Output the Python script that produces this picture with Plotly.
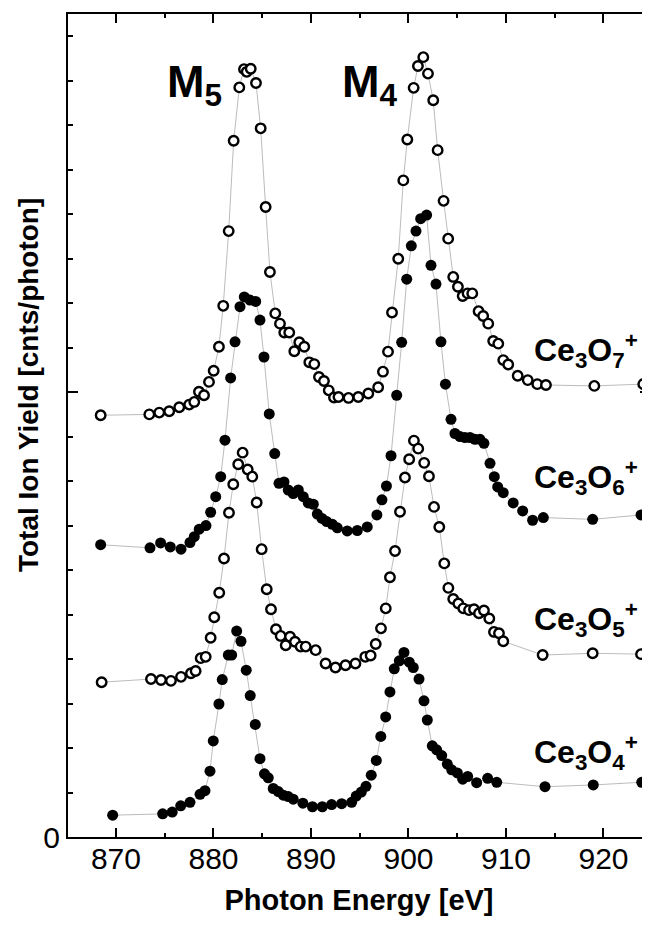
import plotly.graph_objects as go

# ---------------- data ----------------
energy_o7 = [868.43, 873.42, 874.44, 875.46, 876.49, 877.51, 878.03, 878.51, 879.03, 879.54,
             880.02, 880.56, 881.0, 881.56, 882.07, 882.65, 883.13, 883.41, 883.82, 884.36,
             884.84, 885.35, 885.79, 886.34, 886.82, 887.26, 887.77, 888.29, 888.80, 889.31,
             889.83, 890.34, 890.82, 891.33, 891.82, 892.36, 892.82, 893.85, 894.85, 895.88,
             896.89, 897.38, 897.90, 898.31, 898.95, 899.47, 899.88, 900.53, 900.97, 901.52,
             902.0, 902.54, 902.99, 903.60, 904.07, 904.59, 905.07, 905.56, 906.06, 906.54,
             907.19, 907.66, 908.18, 908.69, 909.21, 909.72, 910.23, 911.20, 912.23, 913.21,
             914.10, 919.06, 924.08]
yield_o7 = [9.48, 9.50, 9.54, 9.57, 9.66, 9.72, 9.78, 10.01, 9.93, 10.23,
            10.48, 11.02, 11.94, 13.62, 15.65, 16.85, 17.26, 17.20, 17.27, 16.95,
            15.93, 14.16, 12.70, 11.77, 11.54, 11.34, 11.34, 10.92, 11.12, 11.02,
            10.67, 10.63, 10.34, 10.25, 10.04, 9.88, 9.89, 9.87, 9.89, 9.97,
            10.11, 10.46, 10.91, 11.79, 13.00, 14.76, 15.68, 16.84, 17.33, 17.53,
            17.16, 16.56, 15.44, 14.30, 13.45, 12.59, 12.37, 12.16, 12.22, 12.22,
            11.82, 11.71, 11.54, 11.15, 11.09, 10.72, 10.62, 10.37, 10.27, 10.18,
            10.16, 10.14, 10.18]

energy_o6 = [868.43, 873.49, 874.58, 875.57, 876.67, 877.59, 878.03, 878.54, 879.23, 879.71,
             880.23, 880.74, 881.18, 881.76, 882.21, 882.72, 883.16, 883.74, 884.33, 884.77,
             885.18, 885.72, 886.28, 886.72, 887.23, 887.67, 888.18, 888.70, 889.21, 889.72,
             890.24, 890.65, 891.13, 891.61, 892.18, 892.70, 893.72, 894.75, 895.77, 896.76,
             897.28, 897.74, 898.21, 898.79, 899.30, 899.82, 900.29, 900.77, 901.25, 901.86,
             902.31, 902.82, 903.33, 903.79, 904.36, 904.77, 905.28, 905.79, 906.31, 906.82,
             907.33, 907.74, 908.36, 908.80, 909.15, 909.72, 910.74, 911.71, 912.73, 913.83,
             918.89, 923.85]
yield_o6 = [6.57, 6.50, 6.61, 6.52, 6.47, 6.62, 6.75, 6.92, 7.00, 7.30,
            7.65, 8.10, 8.92, 10.32, 11.13, 11.92, 12.14, 12.07, 12.04, 11.62,
            10.79, 9.51, 8.62, 7.95, 7.98, 7.80, 7.72, 7.80, 7.65, 7.51,
            7.48, 7.26, 7.16, 7.09, 7.03, 6.95, 6.88, 6.89, 6.97, 7.24,
            7.58, 7.89, 8.57, 9.93, 11.12, 12.54, 13.29, 13.62, 13.90, 13.98,
            12.85, 12.43, 11.13, 10.18, 9.39, 9.07, 9.00, 8.98, 8.98, 8.94,
            8.94, 8.85, 8.40, 8.10, 7.87, 7.74, 7.51, 7.33, 7.12, 7.18,
            7.14, 7.24]

energy_o5 = [868.53, 873.59, 874.62, 875.64, 876.67, 877.69, 878.17, 878.69, 879.20, 879.71,
             880.08, 880.59, 881.08, 881.59, 882.03, 882.54, 882.99, 883.51, 883.98, 884.43,
             884.94, 885.46, 885.90, 886.41, 886.89, 887.41, 887.85, 888.36, 888.94, 889.46,
             890.48, 891.50, 892.51, 893.54, 894.56, 895.57, 896.12, 896.64, 897.18, 897.67,
             898.10, 898.62, 899.13, 899.64, 900.07, 900.56, 901.0, 901.61, 902.10, 902.62,
             903.16, 903.67, 904.09, 904.59, 905.11, 905.62, 906.21, 906.72, 907.23, 907.74,
             908.29, 908.77, 909.28, 909.72, 913.76, 918.89, 923.85]
yield_o5 = [3.48, 3.55, 3.53, 3.51, 3.60, 3.68, 3.73, 4.02, 4.05, 4.48,
            4.94, 5.49, 6.26, 7.29, 7.93, 8.38, 8.64, 8.26, 8.10, 7.52,
            6.47, 5.57, 5.12, 4.67, 4.52, 4.31, 4.50, 4.39, 4.28, 4.28,
            4.20, 3.90, 3.81, 3.86, 3.90, 4.05, 4.08, 4.34, 4.69, 5.14,
            5.84, 6.43, 7.31, 8.08, 8.49, 8.91, 8.73, 8.41, 8.11, 7.42,
            6.97, 6.15, 5.60, 5.35, 5.25, 5.14, 5.10, 5.12, 5.03, 5.09,
            4.91, 4.61, 4.58, 4.40, 4.09, 4.13, 4.11]

energy_o4 = [869.66, 874.79, 875.77, 876.64, 877.59, 878.62, 879.13, 879.64, 879.98, 880.56,
             880.90, 881.52, 881.87, 882.38, 882.82, 883.36, 883.77, 884.29, 884.77, 885.23,
             885.62, 886.13, 886.65, 887.16, 887.67, 888.18, 889.17, 890.15, 891.16, 892.12,
             893.15, 894.17, 894.64, 895.16, 895.64, 896.18, 896.70, 897.16, 897.66, 898.10,
             898.54, 899.06, 899.54, 900.08, 900.49, 901.08, 901.59, 901.93, 902.44, 902.89,
             903.41, 903.98, 904.43, 905.01, 905.56, 906.07, 906.99, 908.12, 909.05, 914.0,
             918.95, 923.92]
yield_o4 = [0.49, 0.52, 0.56, 0.70, 0.78, 0.96, 1.04, 1.48, 2.16, 2.99,
            3.54, 4.09, 4.09, 4.63, 4.40, 3.75, 3.18, 2.53, 1.76, 1.42,
            1.33, 1.09, 1.02, 0.94, 0.91, 0.85, 0.76, 0.68, 0.68, 0.73,
            0.75, 0.78, 0.92, 1.01, 1.14, 1.39, 1.72, 2.26, 2.70, 3.26,
            3.78, 3.96, 4.15, 3.93, 3.81, 3.55, 3.06, 2.63, 2.05, 1.96,
            1.83, 1.64, 1.51, 1.44, 1.30, 1.36, 1.22, 1.32, 1.23, 1.13,
            1.17, 1.23]

series_names = ["Ce<sub>3</sub>O<sub>4</sub><sup>+</sup>", "Ce<sub>3</sub>O<sub>5</sub><sup>+</sup>",
                "Ce<sub>3</sub>O<sub>6</sub><sup>+</sup>", "Ce<sub>3</sub>O<sub>7</sub><sup>+</sup>"]
series_x = [energy_o4, energy_o5, energy_o6, energy_o7]
series_y = [yield_o4, yield_o5, yield_o6, yield_o7]
series_open = [False, True, False, True]
label_y = [1.91, 4.88, 8.08, 10.94]
label_x = 912.64

edge_labels = ["M<sub>5</sub>", "M<sub>4</sub>"]
edge_x = [878.05, 896.1]
edge_y = 16.92

FONT = "Liberation Sans, Arial, Helvetica, sans-serif"

fig = go.Figure()
for xs, ys in zip(series_x, series_y):
    fig.add_trace(go.Scatter(x=xs, y=ys, mode="lines",
                             line=dict(color="#bcbcbc", width=1),
                             hoverinfo="skip", showlegend=False))
for xs, ys, op in zip(series_x, series_y, series_open):
    if op:
        mk = dict(symbol="circle", size=9.5, color="white",
                  line=dict(color="black", width=2.4))
    else:
        mk = dict(symbol="circle", size=11, color="black",
                  line=dict(color="black", width=0))
    fig.add_trace(go.Scatter(x=xs, y=ys, mode="markers", marker=mk,
                             showlegend=False))

ann = []
for name, ly in zip(series_names, label_y):
    ann.append(dict(x=label_x, y=ly, xref="x", yref="y", text=name, showarrow=False,
                    xanchor="left", yanchor="middle",
                    font=dict(family=FONT, size=32, color="black", weight="bold")))
for t, ex in zip(edge_labels, edge_x):
    ann.append(dict(x=ex, y=edge_y, xref="x", yref="y", text=t, showarrow=False,
                    xanchor="center", yanchor="middle",
                    font=dict(family=FONT, size=45, color="black", weight="bold")))
ann.append(dict(x=-0.0687, y=10.16, xref="paper", yref="y",
                text="Total Ion Yield [cnts/photon]", textangle=-90, showarrow=False,
                xanchor="center", yanchor="middle",
                font=dict(family=FONT, size=28, color="black", weight="bold")))

# the page body adds an 8 px offset, so the figure is 642 x 919
fig.update_layout(
    width=642, height=919,
    margin=dict(l=60, r=0, t=6, b=90, autoexpand=False),
    paper_bgcolor="white", plot_bgcolor="white",
    annotations=ann,
    xaxis=dict(range=[865.08, 924.77], tickmode="array", automargin=False,
               tickvals=[870, 880, 890, 900, 910, 920],
               ticks="inside", ticklen=9, tickwidth=1.5, tickcolor="black",
               minor=dict(tickmode="linear", tick0=865, dtick=5, ticks="inside",
                          ticklen=4, tickwidth=1.5, tickcolor="black", showgrid=False),
               showline=True, linewidth=2, linecolor="black", mirror="ticks",
               showgrid=False, zeroline=False, ticklabelstandoff=-6,
               tickfont=dict(family=FONT, size=30, color="black"),
               title=dict(text="Photon Energy [eV]", standoff=16,
                          font=dict(family=FONT, size=29, color="black", weight="bold"))),
    yaxis=dict(range=[0, 18.5], tickmode="array", tickvals=[0, 10], ticktext=["0", ""],
               automargin=False,
               ticks="inside", ticklen=10, tickwidth=1.5, tickcolor="black",
               minor=dict(tickmode="linear", tick0=0, dtick=1, ticks="inside",
                          ticklen=5, tickwidth=1.5, tickcolor="black", showgrid=False),
               showline=True, linewidth=2, linecolor="black", mirror="ticks",
               showgrid=False, zeroline=False,
               tickfont=dict(family=FONT, size=30, color="black")),
)

fig.write_html("out.html")
